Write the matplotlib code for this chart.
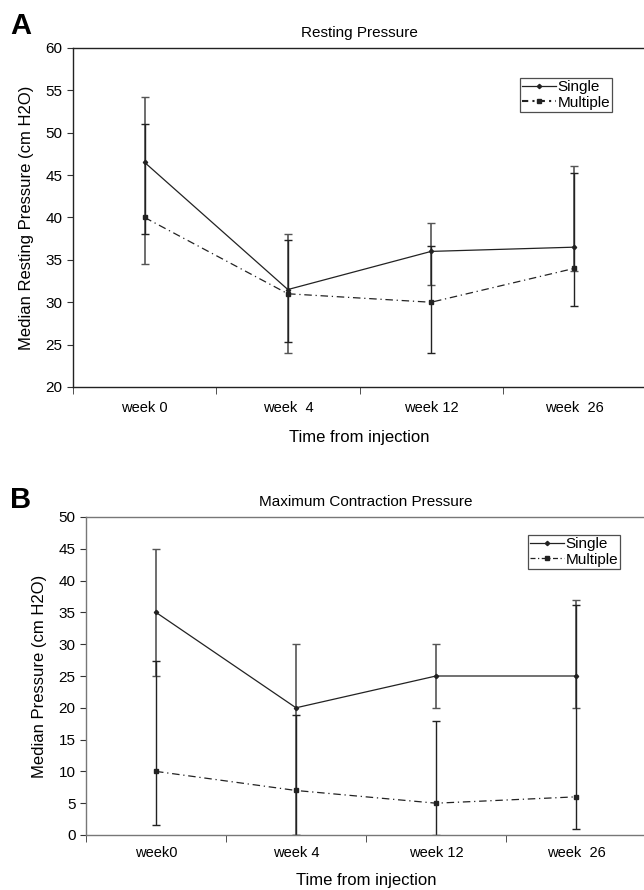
import matplotlib
matplotlib.use("Agg")
import matplotlib.pyplot as plt
from matplotlib.lines import Line2D
import numpy as np

plt.rcParams['font.family'] = ['Liberation Sans', 'DejaVu Sans']

weeks_a = ["week 0", "week  4", "week 12", "week  26"]
weeks_b = ["week0", "week 4", "week 12", "week  26"]

# Panel A - Resting pressure
rest_single = [46.5, 31.5, 36.0, 36.5]
rest_single_lo = [34.5, 24.0, 32.0, 33.7]
rest_single_hi = [54.2, 38.0, 39.4, 46.1]
rest_multi = [40.0, 31.0, 30.0, 34.0]
rest_multi_lo = [38.0, 25.3, 24.0, 29.5]
rest_multi_hi = [51.0, 37.3, 36.6, 45.3]

# Panel B - Maximum contraction pressure
max_single = [35.0, 20.0, 25.0, 25.0]
max_single_lo = [25.0, 0.0, 20.0, 20.0]
max_single_hi = [45.0, 30.0, 30.0, 37.0]
max_multi = [10.0, 7.0, 5.0, 6.0]
max_multi_lo = [1.5, 0.0, 0.0, 1.0]
max_multi_hi = [27.3, 18.8, 18.0, 36.2]

W, H = 644, 890
fig = plt.figure(figsize=(W / 100, H / 100), dpi=100)

def fx(px):
    return px / W

def fy(py):
    return 1 - py / H

def draw(ax, labels, s, slo, shi, m, mlo, mhi, ylim, yticks, title, ylabel,
         spine_col, leg_dash, leg_pos, xlab_pad):
    x = np.arange(len(labels))
    s = np.array(s); m = np.array(m)
    ax.errorbar(x, s, yerr=[s - np.array(slo), np.array(shi) - s], fmt='none',
                ecolor='#555555', elinewidth=1.2, capsize=3, capthick=1.0, zorder=2)
    ax.errorbar(x, m, yerr=[m - np.array(mlo), np.array(mhi) - m], fmt='none',
                ecolor='#222222', elinewidth=1.0, capsize=3, capthick=1.0, zorder=2)
    ax.plot(x, s, color='#222222', lw=0.9, marker='D', ms=2.2, zorder=3)
    ax.plot(x, m, color='#222222', lw=0.9, ls=(0, (6, 3, 1, 3)), marker='s',
            ms=3.5, zorder=3)
    ax.set_xlim(-0.5, len(labels) - 0.5)
    ax.set_ylim(*ylim)
    ax.set_yticks(yticks)
    ax.set_xticks(x)
    ax.set_xticklabels(labels, fontsize=10.5)
    ax.tick_params(axis='x', length=0, pad=10)
    ax.set_xticks(np.arange(-0.5, len(labels) - 0.4, 1.0), minor=True)
    ax.tick_params(axis='x', which='minor', length=5, direction='out', color='#333333')
    ax.tick_params(axis='y', labelsize=11, length=4, direction='out', color='#333333')
    for sp in ['left', 'bottom', 'top']:
        ax.spines[sp].set_color(spine_col)
        ax.spines[sp].set_linewidth(1.0)
    ax.spines['right'].set_visible(False)
    ax.set_title(title, fontsize=11, pad=8)
    ax.set_xlabel('Time from injection', fontsize=12, labelpad=xlab_pad)
    ax.set_ylabel(ylabel, fontsize=12, labelpad=8)
    h1 = Line2D([], [], color='#222222', lw=0.9, marker='D', ms=2.2)
    h2 = Line2D([], [], color='#222222', lw=leg_dash[1], ls=leg_dash[0], marker='s', ms=3.5)
    leg = ax.legend([h1, h2], ['Single', 'Multiple'], loc='upper left',
                    bbox_to_anchor=leg_pos, frameon=True, fancybox=False,
                    fontsize=11, handlelength=2.2, handletextpad=0.1,
                    borderpad=0.15, labelspacing=0.1, borderaxespad=0)
    leg.get_frame().set_edgecolor('#222222')
    leg.get_frame().set_linewidth(0.9)

axA = fig.add_axes([fx(73), fy(387), fx(646) - fx(73), fy(48) - fy(387)])
draw(axA, weeks_a, rest_single, rest_single_lo, rest_single_hi,
     rest_multi, rest_multi_lo, rest_multi_hi, (20, 60), range(20, 61, 5),
     'Resting Pressure', 'Median Resting Pressure (cm H2O)', '#222222',
     ((0, (3, 2, 1, 2)), 1.5), ((520 - 73) / 573, (387 - 78) / 339), 11)

axB = fig.add_axes([fx(86), fy(835), fx(646) - fx(86), fy(517) - fy(835)])
draw(axB, weeks_b, max_single, max_single_lo, max_single_hi,
     max_multi, max_multi_lo, max_multi_hi, (0, 50), range(0, 51, 5),
     'Maximum Contraction Pressure', 'Median Pressure (cm H2O)', '#777777',
     ((0, (4, 2, 1, 2)), 0.9), ((528 - 86) / 560, (835 - 535) / 318), 9)
axB.tick_params(axis='x', pad=8)

fig.text(fx(10), fy(26), 'A', fontsize=21, fontweight='bold', va='center', ha='left')
fig.text(fx(10), fy(500), 'B', fontsize=21, fontweight='bold', va='center', ha='left')

fig.savefig('out.png', dpi=100)
